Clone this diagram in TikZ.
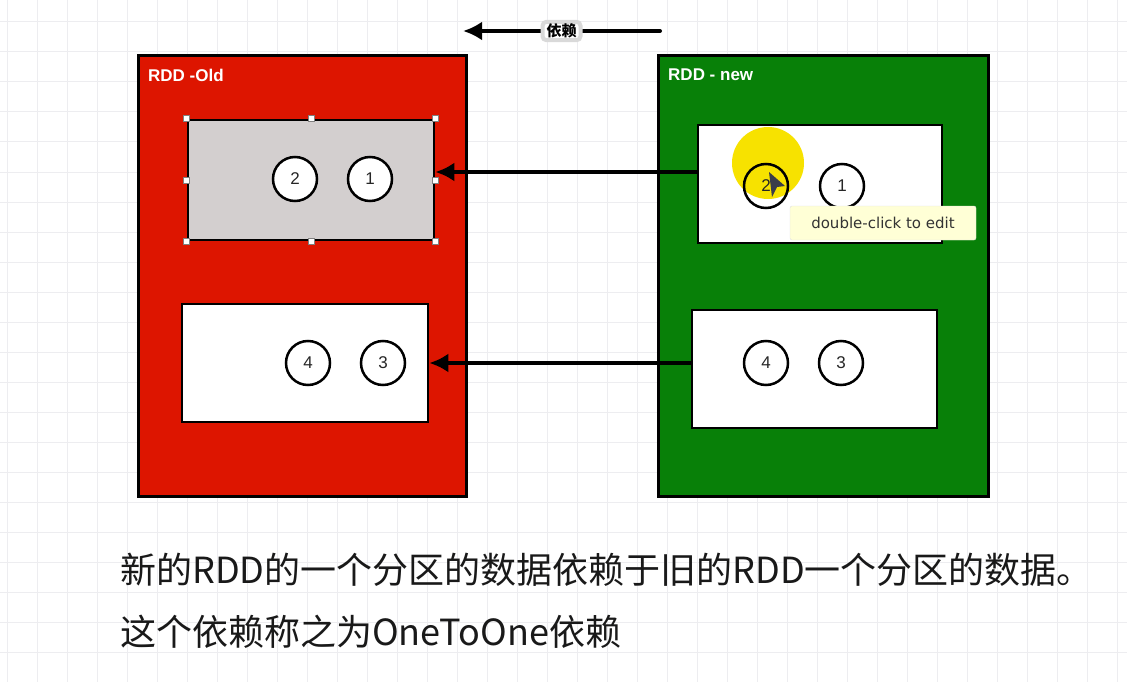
\documentclass[tikz,border=0pt]{standalone}
\usepackage{fontspec}
\setmainfont{Liberation Sans}
\newfontfamily\cjkfont{Noto Sans CJK SC}
\newfontfamily\tipfont{DejaVu Sans}
\usepackage{tikz}
\usetikzlibrary{positioning, arrows.meta, calc}
\definecolor{oldred}{HTML}{DD1500}
\definecolor{newgreen}{HTML}{088008}
\definecolor{partgray}{HTML}{D3CFCF}
\definecolor{gridgray}{HTML}{EDEDF0}
\definecolor{tipyellow}{HTML}{FFFFD6}
\definecolor{hiyellow}{HTML}{F7E200}
\definecolor{cursorgray}{HTML}{3A3D4A}

\tikzset{
  rddbox/.style={draw=black, line width=3pt, minimum width=328pt, minimum height=440pt, inner sep=0pt},
  partbox/.style={draw=black, line width=2.6pt, fill=white, minimum width=246pt, minimum height=118pt, inner sep=0pt},
  rec/.style={circle, draw=black, line width=2.5pt, fill=white, minimum size=44pt, inner sep=0pt,
              text=black!85, font=\fontsize{17}{17}\selectfont},
  rddlabel/.style={text=white, anchor=west, inner sep=0pt, font=\bfseries\fontsize{17}{17}\selectfont},
  dep/.style={line width=4pt, line cap=round, -{Latex[length=19pt,width=19pt]}},
  deplabel/.style={fill=white, draw=black!15, rounded corners=4pt, inner xsep=4pt, inner ysep=2pt,
                   font=\cjkfont\bfseries\fontsize{15}{15}\selectfont},
  handle/.style={draw=black!50, fill=white, line width=0.6pt, minimum size=6pt, inner sep=0pt},
  gridline/.style={gridgray, line width=1pt},
}

\begin{document}
\begin{tikzpicture}[x=1pt, y=-1pt]
    \useasboundingbox (0,0) rectangle (1127,682);
    \fill[white] (0,0) rectangle (1127,682);
    % background grid
    \foreach \gx in {7,37,...,1127} \draw[gridline] (\gx,0) -- (\gx,682);
    \foreach \gy in {22,52,...,682} \draw[gridline] (0,\gy) -- (1127,\gy);

    % the two RDDs
    \node[rddbox, fill=oldred] (old) at (302,276) {};
    \node[rddbox, fill=newgreen, minimum width=330pt] (new) at (823,276) {};
    \node[rddlabel] (oldname) at (148,75) {RDD -Old};
    \node[rddlabel] (newname) at (668,75) {RDD - new};

    % partitions
    \node[partbox, fill=partgray, minimum height=120pt] (old1) at (311,180) {};
    \node[partbox] (old2) at (305,363) {};
    \node[partbox, minimum width=244pt] (new1) at (820,184) {};
    \node[partbox, minimum width=245pt] (new2) at (814.5,369) {};

    \fill[hiyellow] (768,163) circle (36pt);

    \node[rec] (o2) at (295,179) {2};
    \node[rec] (o1) at (370,179) {1};
    \node[rec] (o4) at (308,363) {4};
    \node[rec] (o3) at (383,363) {3};
    \node[rec, fill=none] (n2) at (766,186) {2};
    \node[rec] (n1) at (842,186) {1};
    \node[rec] (n4) at (766,363) {4};
    \node[rec] (n3) at (841,363) {3};

    % selection handles
    \foreach \a in {north west, north, north east, west, east, south west, south, south east}
      \node[handle] at (old1.\a) {};

    % dependencies
    \draw[dep] ([yshift=12pt]new1.west) -- ([yshift=12pt]new1.west -| old1.east);
    \draw[dep] ([yshift=6pt]new2.west) -- (old2.east);
    \coordinate (depfrom) at (660,31);
    \coordinate (depto) at (463,31);
    \draw[dep] (depfrom) -- node[deplabel] (depname) {依赖} (depto);

    % cursor and tooltip
    \fill[cursorgray] (769,172) -- (785,186) -- (777,187) -- (772,197) -- cycle;
    \node[fill=tipyellow, draw=black!12, rounded corners=2pt, minimum width=186pt, minimum height=34pt,
          text=black!80, font=\tipfont\fontsize{15}{15}\selectfont] (tip) at (883,223) {double-click to edit};

    % caption
    \node[anchor=west, inner sep=0pt, text=black!90, font=\cjkfont\fontsize{36}{36}\selectfont]
      (line1) at (120,570) {新的RDD的一个分区的数据依赖于旧的RDD一个分区的数据。};
    \node[anchor=west, inner sep=0pt, text=black!90, font=\cjkfont\fontsize{36}{36}\selectfont]
      (line2) at (120,632) {这个依赖称之为OneToOne依赖};
\end{tikzpicture}
\end{document}
